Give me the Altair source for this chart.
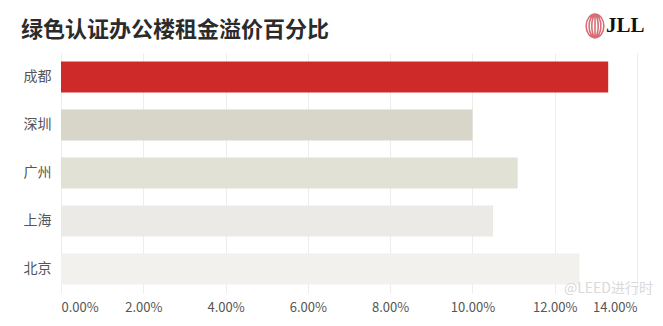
import altair as alt
import pandas as pd

# ---- data ----
cities = ["成都", "深圳", "广州", "上海", "北京"]
premium = [0.133, 0.100, 0.111, 0.105, 0.126]
bar_colors = ["#cf2a2a", "#d7d6c9", "#e2e1d6", "#ebeae6", "#f2f1ee"]
tick_values = [0.0, 0.02, 0.04, 0.06, 0.08, 0.10, 0.12, 0.14]
title_text = "绿色认证办公楼租金溢价百分比"
logo_text = "JLL"
watermark_text = "@LEED进行时"

df = pd.DataFrame({"city": cities, "value": premium})

FONT = "Noto Sans CJK SC"

bars = alt.Chart(df).mark_bar().encode(
    x=alt.X(
        "value:Q",
        scale=alt.Scale(domain=[0, 0.14], nice=False, zero=True),
        axis=alt.Axis(
            values=tick_values,
            format=".2%",
            title=None,
            domain=False,
            ticks=False,
            grid=True,
            gridColor="#ededed",
            gridWidth=1,
            labelFont=FONT,
            labelFontSize=13,
            labelColor="#555555",
            labelPadding=8,
        ),
    ),
    y=alt.Y(
        "city:N",
        sort=cities,
        scale=alt.Scale(paddingInner=0.35, paddingOuter=0.175),
        axis=alt.Axis(
            title=None,
            domain=False,
            ticks=False,
            grid=False,
            labelFont=FONT,
            labelFontSize=14,
            labelColor="#555555",
            labelPadding=10,
        ),
    ),
    color=alt.Color(
        "city:N",
        scale=alt.Scale(domain=cities, range=bar_colors),
        legend=None,
    ),
)

title = alt.Chart(pd.DataFrame({"t": [title_text]})).mark_text(
    font=FONT, fontSize=22, fontWeight="bold", color="#2b2b2b",
    align="left", baseline="middle",
).encode(text="t:N", x=alt.value(-40), y=alt.value(-23))

logo = alt.Chart(pd.DataFrame({"t": [logo_text]})).mark_text(
    font="Liberation Serif", fontSize=21, fontWeight="bold", color="#111111",
    align="left", baseline="middle",
).encode(text="t:N", x=alt.value(545), y=alt.value(-27))

ring_path = (
    "M -0.75 0 A 0.75 1 0 1 0 0.75 0 A 0.75 1 0 1 0 -0.75 0 "
    "M -0.5 0 A 0.5 0.95 0 1 0 0.5 0 A 0.5 0.95 0 1 0 -0.5 0 "
    "M -0.27 0 A 0.27 0.9 0 1 0 0.27 0 A 0.27 0.9 0 1 0 -0.27 0 "
    "M 0 -0.85 L 0 0.85"
)
rings = alt.Chart(pd.DataFrame({"t": [1]})).mark_point(
    shape=ring_path, filled=False, stroke="#c8323c", strokeWidth=1.6, size=560,
).encode(x=alt.value(534), y=alt.value(-27))

watermark = alt.Chart(pd.DataFrame({"t": [watermark_text]})).mark_text(
    font=FONT, fontSize=14, color="#d6d6d6", opacity=0.9,
    align="right", baseline="middle",
).encode(text="t:N", x=alt.value(592), y=alt.value(236))

chart = alt.layer(bars, title, rings, logo, watermark).properties(
    width=576,
    height=240,
    padding={"left": 61, "top": 53, "right": 26, "bottom": 33},
    autosize=alt.AutoSizeParams(type="none"),
    background="#ffffff",
).configure_view(strokeWidth=0)

chart.save("out.html", embed_options={"renderer": "svg", "actions": False})
